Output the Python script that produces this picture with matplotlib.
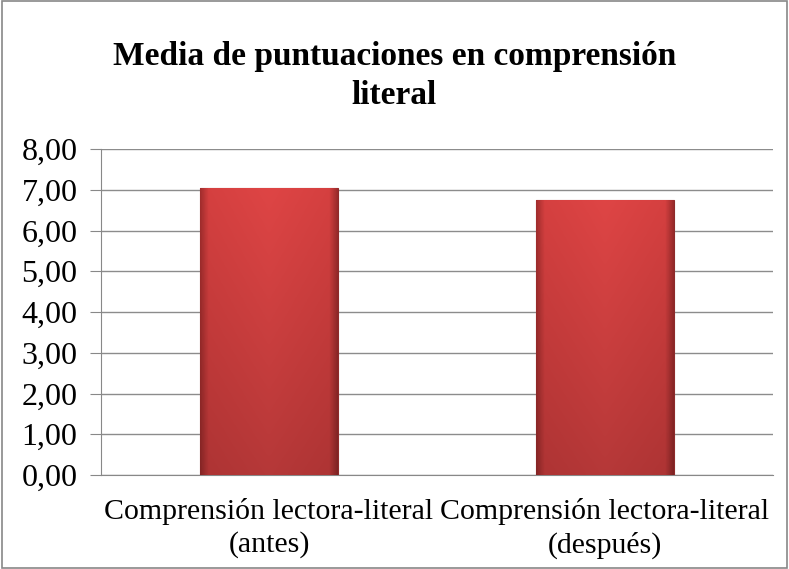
import numpy as np
import matplotlib
matplotlib.use("Agg")
import matplotlib.pyplot as plt
from matplotlib.colors import LinearSegmentedColormap

# datos
categorias = ["Comprensión lectora-literal\n(antes)", "Comprensión lectora-literal\n(después)"]
medias = [7.05, 6.76]
ticks_y = [0, 1, 2, 3, 4, 5, 6, 7, 8]

plt.rcParams['font.family'] = ['Liberation Serif', 'DejaVu Serif']

fig = plt.figure(figsize=(7.89, 5.69), dpi=100)
ax = fig.add_axes([101 / 789, 1 - 475 / 569, 672 / 789, 326 / 569])

x = np.arange(len(categorias))
barras = ax.bar(x, medias, width=0.408, color="#C83A3A", edgecolor="#8E2A2A",
                linewidth=0.8, zorder=3)

# degradado tipo Excel dentro de cada barra
cmap = LinearSegmentedColormap.from_list(
    "rojo", [(0, "#9E2C2C"), (0.06, "#CF3E3E"), (0.5, "#D84343"), (0.94, "#CF3E3E"), (1, "#962A2A")])
for b in barras:
    xs = np.linspace(0, 1, 300)
    vert = np.linspace(1.03, 0.84, 100)[:, None] * np.ones((1, 300))
    img = np.clip(cmap(xs)[None, :, :3] * vert[:, :, None], 0, 1)
    im = ax.imshow(img, extent=[b.get_x(), b.get_x() + b.get_width(), 0, b.get_height()],
                   aspect="auto", zorder=3, interpolation="bilinear")
    im.set_clip_path(b)

ax.set_xlim(-0.5, 1.5)
ax.set_ylim(0, 8)
ax.set_yticks(ticks_y)
ax.set_yticklabels([f"{v:.2f}".replace(".", ",") for v in ticks_y], fontsize=23)
ax.set_xticks(x)
ax.set_xticklabels(categorias, fontsize=21.5, linespacing=1.3)
ax.xaxis.set_ticks_position("none")
ax.set_xticks([0.5], minor=True)
ax.tick_params(axis="x", which="minor", length=8, color="#888888")
ax.tick_params(axis="y", length=8, color="#888888", pad=9)
ax.tick_params(axis="x", which="major", pad=13)

ax.grid(axis="y", color="#8C8C8C", linewidth=1.0, zorder=0)
for s in ["top", "right"]:
    ax.spines[s].set_visible(False)
for s in ["left", "bottom"]:
    ax.spines[s].set_color("#888888")

fig.text(0.5, 1 - 76 / 569, "Media de puntuaciones en comprensión\nliteral", ha="center", va="center",
         fontsize=24, fontweight="bold", linespacing=1.35)

fig.patches.append(plt.Rectangle((0.002, 0.002), 0.996, 0.996, transform=fig.transFigure,
                                 fill=False, edgecolor="#888888", linewidth=1.2))

fig.savefig("out.png", dpi=100)
